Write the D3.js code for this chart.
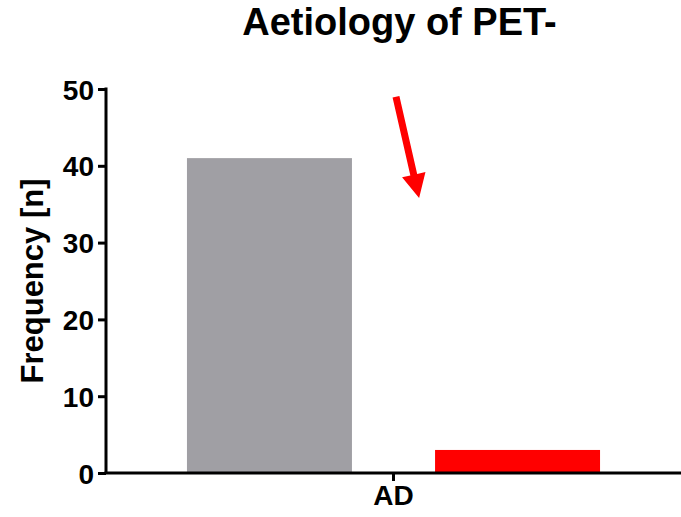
<!DOCTYPE html>
<html>
<head>
<meta charset="utf-8">
<script src="https://cdn.jsdelivr.net/npm/d3@7"></script>
<style>
  html, body { margin: 0; padding: 0; background: #fff; }
  svg { display: block; }
  text { font-family: "Liberation Sans", Arial, Helvetica, sans-serif; font-weight: bold; fill: #000; }
</style>
</head>
<body>
<svg id="chart" width="681" height="517"></svg>
<script>
// Chart data
const categories = ["AD"];
const seriesNames = ["PET- total", "PET- highlighted"];
const seriesValues = [41, 3];
const seriesColors = ["#a09fa4", "#ff0000"];
const yTicks = [0, 10, 20, 30, 40, 50];
const titleText = "Aetiology of PET-";
const yLabel = "Frequency [n]";

// Arrow annotation in data units: position across the band (0..1) and value
const arrowFrom = { pos: 0.506, value: 49.0 };
const arrowTo = { pos: 0.562, value: 35.8 };

const width = 681, height = 517;
const margin = { top: 89, right: 0, bottom: 44, left: 106 };

const svg = d3.select("#chart");

const y = d3.scaleLinear()
  .domain([0, 50])
  .range([height - margin.bottom, margin.top]);

const x0 = d3.scaleBand()
  .domain(categories)
  .range([margin.left, width - margin.right])
  .paddingInner(0)
  .paddingOuter(0.196);

const x1 = d3.scaleBand()
  .domain(seriesNames)
  .range([0, x0.bandwidth()])
  .paddingInner(0.335)
  .paddingOuter(0);

// Bars
const g = svg.append("g");
categories.forEach(cat => {
  g.selectAll(null)
    .data(seriesNames.map((s, i) => ({ s, v: seriesValues[i], c: seriesColors[i] })))
    .enter()
    .append("rect")
    .attr("x", d => x0(cat) + x1(d.s))
    .attr("y", d => y(d.v))
    .attr("width", x1.bandwidth())
    .attr("height", d => y(0) - y(d.v))
    .attr("fill", d => d.c);
});

// Y axis
const yAxis = svg.append("g")
  .attr("transform", `translate(${margin.left},0)`)
  .call(d3.axisLeft(y).tickValues(yTicks).tickSize(8).tickPadding(4).tickFormat(d3.format("d")));
yAxis.select(".domain").attr("stroke", "#000").attr("stroke-width", 3).attr("d", `M0,${y(50) - 1.5}V${y(0)}`);
yAxis.selectAll(".tick line").attr("stroke", "#000").attr("stroke-width", 3);
yAxis.selectAll(".tick text").style("font-size", "28px").attr("dy", "0.36em");

// X axis
const xAxis = svg.append("g")
  .attr("transform", `translate(0,${y(0)})`)
  .call(d3.axisBottom(x0).tickSize(8).tickPadding(4));
xAxis.select(".domain").attr("stroke", "#000").attr("stroke-width", 3)
  .attr("d", `M${margin.left - 1.5},0H${width}`);
xAxis.selectAll(".tick line").attr("stroke", "#000").attr("stroke-width", 3);
xAxis.selectAll(".tick text").style("font-size", "28px");

// Title
svg.append("text")
  .attr("x", x0(categories[0]) + x0.bandwidth() / 2 + 6)
  .attr("y", 35)
  .attr("text-anchor", "middle")
  .style("font-size", "38px")
  .text(titleText);

// Y label
svg.append("text")
  .attr("transform", `translate(43,${(y(0) + y(50)) / 2}) rotate(-90)`)
  .attr("text-anchor", "middle")
  .style("font-size", "31px")
  .text(yLabel);

// Arrow annotation
const bandX = p => x0(categories[0]) + p * x0.bandwidth();
const ax1 = bandX(arrowFrom.pos), ay1 = y(arrowFrom.value);
const ax2 = bandX(arrowTo.pos), ay2 = y(arrowTo.value);
const ang = Math.atan2(ay2 - ay1, ax2 - ax1);
const headLen = 24, headHalf = 12, shaft = 3.5;
const bx = ax2 - headLen * Math.cos(ang), by = ay2 - headLen * Math.sin(ang);
const nx = -Math.sin(ang), ny = Math.cos(ang);
const pts = [
  [ax1 + nx * shaft, ay1 + ny * shaft],
  [bx + nx * shaft, by + ny * shaft],
  [bx + nx * headHalf, by + ny * headHalf],
  [ax2, ay2],
  [bx - nx * headHalf, by - ny * headHalf],
  [bx - nx * shaft, by - ny * shaft],
  [ax1 - nx * shaft, ay1 - ny * shaft]
];
svg.append("polygon")
  .attr("points", pts.map(p => p.join(",")).join(" "))
  .attr("fill", "#ff0000");
</script>
</body>
</html>
